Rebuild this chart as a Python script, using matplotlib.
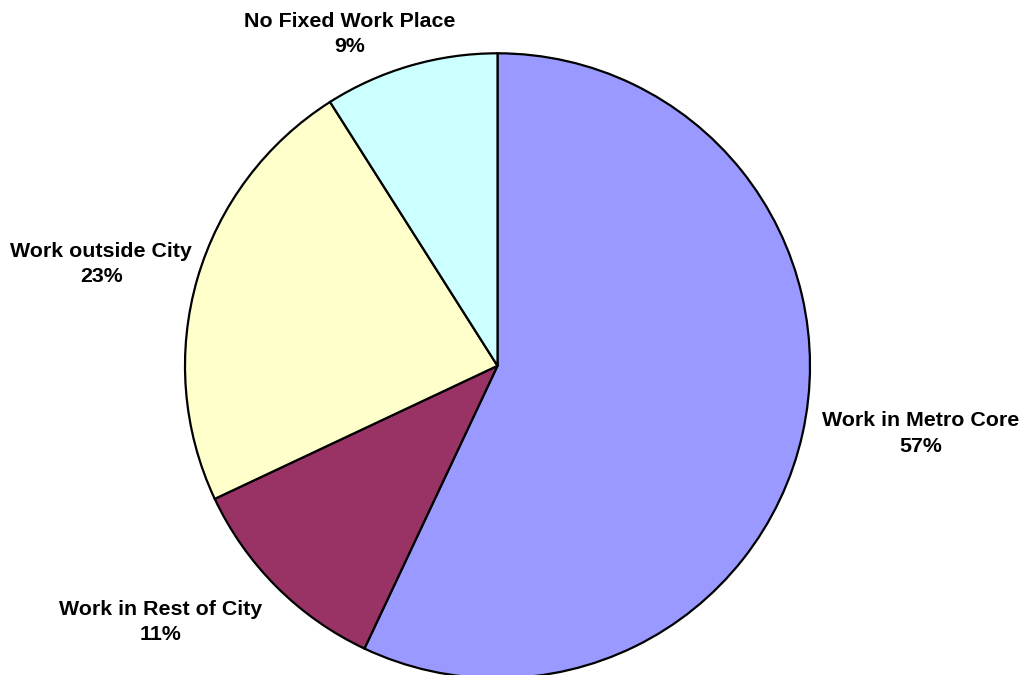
import matplotlib.pyplot as plt

# Workplace distribution
categories = ["Work in Metro Core", "Work in Rest of City", "Work outside City", "No Fixed Work Place"]
shares = [57, 11, 23, 9]
colors = ["#9999FF", "#993366", "#FFFFCC", "#CCFFFF"]

# label anchor points, in pie-radius units from the centre
label_pos = [(1.353, -0.216), (-1.078, -0.819), (-1.268, 0.325), (-0.474, 1.062)]

plt.rcParams["font.family"] = ["Liberation Sans", "DejaVu Sans"]

fig = plt.figure(figsize=(10.23, 6.75), dpi=100)
ax = fig.add_axes([0, 0, 1, 1])

r_px = 312.5
cx, cy = 497.5, 675 - 365.8

ax.pie(shares, colors=colors, startangle=90, counterclock=False, radius=1,
       wedgeprops=dict(edgecolor="black", linewidth=1.6))

for name, val, (x, y) in zip(categories, shares, label_pos):
    ax.text(x, y, f"{name}\n{val}%", ha="center", va="center",
            fontsize=15.4, fontweight="bold", linespacing=1.43)

ax.set_aspect("auto")
ax.set_xlim(-cx / r_px, (1023 - cx) / r_px)
ax.set_ylim(-cy / r_px, (675 - cy) / r_px)
ax.axis("off")

fig.savefig("out.png", dpi=100)
